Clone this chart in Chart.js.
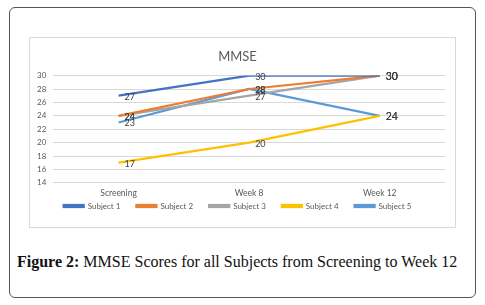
<!DOCTYPE html>
<html>
<head>
<meta charset="utf-8">
<script src="https://cdn.jsdelivr.net/npm/chart.js@4"></script>
<style>
    body { margin: 0; background: #fff; }
    .frame {
        position: absolute; left: 9px; top: 7px; width: 465px; height: 289px;
        border: 1.5px solid #555; border-radius: 6px;
    }
    .chart-box {
        position: absolute; left: 29px; top: 37px; width: 425px; height: 189px;
        border: 1px solid #d9d9d9;
    }
    .caption {
        position: absolute; left: 17px; top: 253px; width: 460px;
        font-family: "Liberation Serif", serif; font-size: 16px; color: #111;
        white-space: nowrap;
    }
</style>
</head>
<body>
<div class="frame"></div>
<div class="chart-box"><canvas id="mmseChart" width="425" height="189"></canvas></div>
<div class="caption"><b>Figure 2:</b> MMSE Scores for all Subjects from Screening to Week 12</div>
<script>
const categories = ['Screening', 'Week 8', 'Week 12'];
const subject1 = [27, 30, 30];
const subject2 = [24, 28, 30];
const subject3 = [24, 27, 30];
const subject4 = [17, 20, 24];
const subject5 = [23, 28, 24];
const yTicks = [14, 16, 18, 20, 22, 24, 26, 28, 30];

// draws the value next to each point, like the Excel data labels
const pointLabels = {
    id: 'pointLabels',
    afterDatasetsDraw(chart) {
        const ctx = chart.ctx;
        ctx.save();
        ctx.fillStyle = '#404040';
        ctx.textBaseline = 'middle';
        chart.data.datasets.forEach((ds, i) => {
            const meta = chart.getDatasetMeta(i);
            meta.data.forEach((pt, j) => {
                ctx.font = (j === 2 ? '10.5px' : '9px') + ' Lato, sans-serif';
                ctx.fillText(ds.data[j], pt.x + 6, pt.y + 1);
            });
        });
        ctx.restore();
    }
};

// legend sits closer to the axis labels than Chart.js allows by default
const legendTight = {
    id: 'legendTight',
    beforeLayout(chart) {
        const lg = chart.legend;
        if (lg && !lg._tight) {
            const fit = lg.fit;
            lg.fit = function() {
                fit.call(this);
                this.height = 24;
            };
            lg._tight = true;
        }
    },
    afterLayout(chart) {
        chart.legend.top -= 17;
        chart.legend.bottom -= 17;
    }
};

function makeSet(label, data, color) {
    return {
        label: label,
        data: data,
        borderColor: color,
        backgroundColor: color,
        borderWidth: 2.25,
        pointRadius: 0,
        tension: 0
    };
}

new Chart(document.getElementById('mmseChart'), {
    type: 'line',
    data: {
        labels: categories,
        datasets: [
            makeSet('Subject 1', subject1, '#4472C4'),
            makeSet('Subject 2', subject2, '#ED7D31'),
            makeSet('Subject 3', subject3, '#A5A5A5'),
            makeSet('Subject 4', subject4, '#FFC000'),
            makeSet('Subject 5', subject5, '#5B9BD5')
        ]
    },
    options: {
        responsive: false,
        animation: false,
        layout: { padding: { left: 0, right: 10, top: 7, bottom: 0 } },
        plugins: {
            title: {
                display: true,
                text: 'MMSE',
                color: '#595959',
                font: { family: 'Lato, sans-serif', size: 13, weight: 'normal' },
                padding: { top: 4, bottom: 11 }
            },
            legend: {
                position: 'bottom',
                labels: {
                    boxWidth: 20,
                    boxHeight: 2,
                    color: '#595959',
                    padding: 16,
                    font: { family: 'Lato, sans-serif', size: 8 }
                }
            },
            tooltip: { enabled: false }
        },
        scales: {
            x: {
                offset: true,
                grid: { display: false, drawTicks: false },
                border: { display: false },
                ticks: {
                    color: '#595959',
                    padding: 5,
                    font: { family: 'Lato, sans-serif', size: 8.5 }
                }
            },
            y: {
                min: yTicks[0],
                max: yTicks[yTicks.length - 1],
                afterBuildTicks: axis => { axis.ticks = yTicks.map(v => ({ value: v })); },
                grid: { color: '#d9d9d9', drawTicks: false },
                border: { display: false },
                ticks: {
                    autoSkip: false,
                    color: '#595959',
                    padding: 7,
                    font: { family: 'Lato, sans-serif', size: 8 }
                }
            }
        }
    },
    plugins: [pointLabels, legendTight]
});
</script>
</body>
</html>
